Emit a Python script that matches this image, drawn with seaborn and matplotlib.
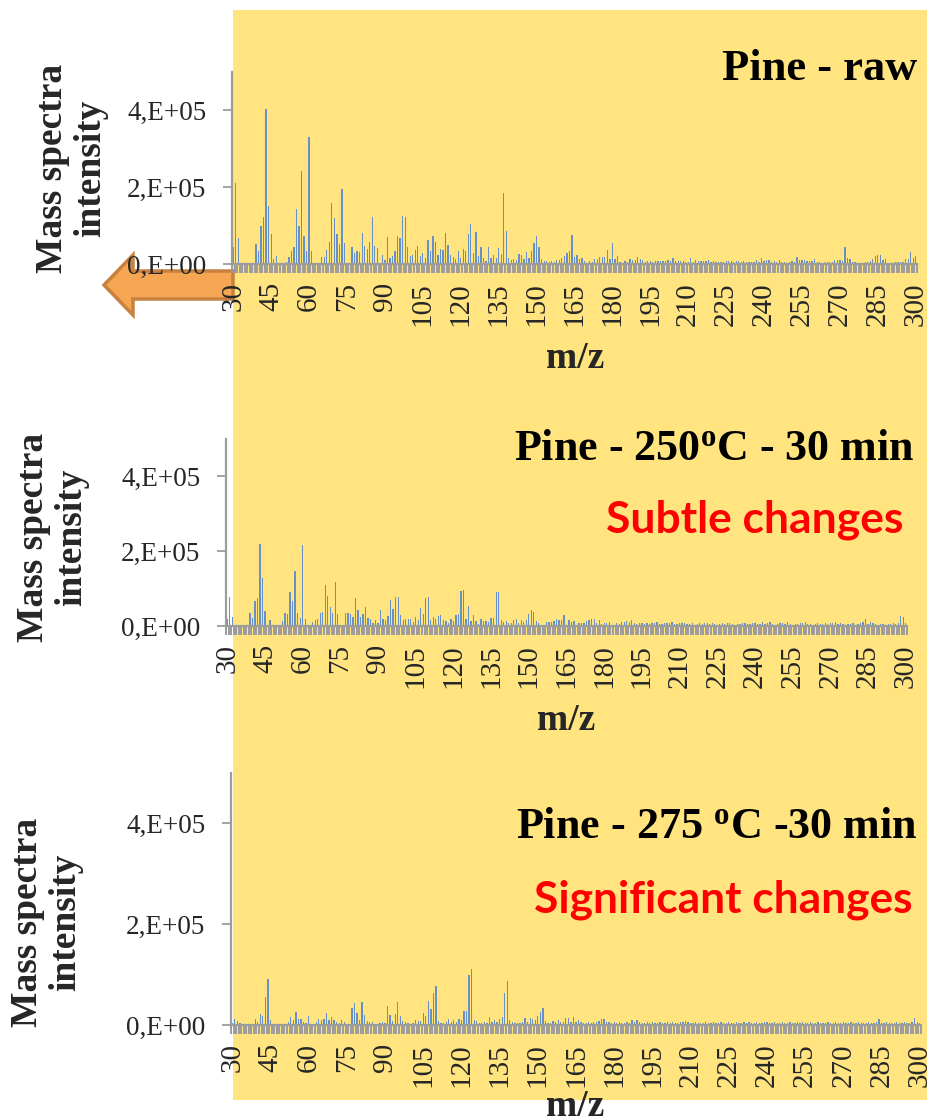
import numpy as np
import matplotlib
matplotlib.use("Agg")
import matplotlib.pyplot as plt
import seaborn as sns
from matplotlib.patches import Rectangle, Polygon

# ---------------- data (intensities in thousands of counts) ----------------
mz = list(range(30, 301))

pine_raw_k = [
    45, 210, 67, 2, 1, 1, 1, 1, 3, 51,
    34, 99, 123, 402, 151, 78, 12, 21, 1, 1,
    2, 5, 19, 34, 44, 142, 99, 241, 73, 34,
    330, 34, 3, 3, 3, 17, 18, 36, 58, 158,
    120, 78, 52, 194, 55, 2, 2, 43, 28, 34,
    32, 81, 47, 39, 57, 123, 47, 41, 3, 23,
    10, 71, 16, 21, 35, 73, 67, 125, 123, 44,
    21, 23, 36, 48, 21, 28, 16, 62, 34, 74,
    57, 23, 39, 36, 80, 50, 23, 18, 12, 34,
    16, 39, 34, 78, 103, 28, 83, 21, 44, 15,
    8, 44, 15, 23, 15, 41, 26, 185, 87, 16,
    10, 13, 10, 25, 23, 12, 30, 16, 34, 55,
    74, 44, 14, 8, 8, 5, 8, 5, 10, 10,
    15, 21, 29, 33, 75, 19, 23, 12, 15, 8,
    3, 8, 6, 12, 12, 19, 17, 19, 36, 14,
    54, 14, 21, 6, 3, 9, 5, 12, 10, 10,
    17, 12, 10, 6, 9, 9, 6, 9, 7, 9,
    8, 9, 10, 9, 15, 9, 9, 8, 9, 5,
    5, 15, 5, 10, 8, 8, 8, 8, 10, 5,
    8, 5, 5, 5, 6, 8, 8, 8, 6, 8,
    8, 5, 8, 5, 5, 6, 5, 10, 5, 15,
    8, 10, 10, 5, 8, 5, 10, 5, 5, 3,
    6, 9, 5, 17, 10, 10, 10, 8, 8, 8,
    13, 5, 5, 3, 5, 5, 5, 5, 10, 10,
    10, 8, 43, 15, 12, 5, 5, 3, 3, 3,
    5, 5, 8, 12, 21, 23, 23, 10, 12, 3,
    3, 3, 5, 5, 5, 5, 12, 14, 30, 15,
    21,
]

pine_250_k = [
    20, 78, 23, 2, 2, 1, 1, 2, 2, 36,
    22, 67, 76, 218, 129, 41, 4, 16, 2, 2,
    3, 3, 13, 34, 32, 91, 67, 148, 36, 22,
    216, 20, 3, 4, 10, 16, 18, 34, 38, 109,
    80, 52, 34, 117, 31, 4, 4, 34, 36, 31,
    23, 74, 43, 25, 32, 52, 22, 20, 9, 16,
    9, 43, 18, 16, 28, 69, 45, 78, 78, 29,
    16, 18, 20, 19, 12, 25, 16, 47, 32, 76,
    77, 16, 23, 19, 27, 29, 16, 13, 7, 18,
    13, 29, 32, 94, 96, 20, 53, 13, 29, 13,
    5, 18, 13, 13, 12, 22, 22, 92, 90, 16,
    12, 13, 7, 7, 16, 18, 7, 16, 12, 16,
    32, 43, 38, 13, 7, 4, 4, 10, 12, 12,
    14, 18, 16, 16, 29, 4, 16, 12, 13, 4,
    7, 7, 9, 13, 16, 18, 18, 7, 16, 5,
    9, 7, 12, 4, 4, 7, 5, 10, 12, 13,
    12, 16, 9, 5, 7, 9, 6, 8, 5, 9,
    7, 10, 6, 5, 8, 7, 9, 10, 6, 5,
    7, 8, 9, 6, 5, 7, 4, 6, 8, 5,
    7, 9, 6, 8, 5, 4, 6, 8, 5, 7,
    9, 5, 4, 6, 5, 7, 8, 5, 6, 9,
    7, 5, 6, 12, 5, 7, 10, 6, 4, 5,
    7, 8, 6, 12, 5, 4, 6, 5, 7, 8,
    10, 5, 6, 4, 5, 7, 6, 5, 8, 6,
    9, 7, 12, 6, 9, 5, 4, 6, 5, 7,
    4, 5, 9, 10, 20, 6, 12, 8, 5, 4,
    6, 5, 4, 6, 5, 7, 6, 9, 27, 25,
    9,
]

pine_275_k = [
    3, 11, 7, 3, 2, 2, 2, 2, 2, 12,
    6, 21, 17, 56, 92, 9, 2, 2, 2, 2,
    2, 2, 6, 15, 10, 26, 12, 12, 6, 3,
    18, 2, 2, 6, 12, 10, 11, 24, 10, 15,
    9, 5, 3, 9, 6, 2, 2, 34, 44, 23,
    9, 46, 20, 7, 5, 5, 2, 2, 4, 5,
    3, 38, 20, 8, 21, 46, 17, 8, 5, 3,
    2, 3, 9, 7, 7, 23, 18, 48, 31, 63,
    78, 8, 3, 3, 5, 12, 6, 10, 6, 12,
    10, 28, 28, 99, 111, 10, 7, 3, 4, 6,
    4, 15, 6, 9, 6, 12, 15, 63, 87, 10,
    5, 4, 3, 4, 5, 13, 6, 13, 11, 9,
    18, 26, 33, 7, 3, 4, 7, 5, 10, 6,
    5, 13, 13, 6, 16, 6, 10, 5, 4, 3,
    5, 4, 6, 5, 7, 11, 11, 6, 5, 4,
    6, 3, 5, 4, 3, 5, 4, 9, 6, 9,
    5, 4, 3, 5, 4, 6, 3, 4, 5, 3,
    4, 6, 3, 5, 4, 3, 6, 5, 7, 5,
    4, 3, 5, 4, 3, 4, 5, 3, 4, 6,
    3, 4, 5, 3, 4, 6, 4, 3, 5, 4,
    3, 5, 4, 6, 3, 4, 5, 3, 4, 5,
    6, 3, 4, 5, 3, 4, 6, 3, 4, 5,
    3, 4, 5, 3, 6, 4, 3, 5, 4, 3,
    5, 4, 3, 4, 5, 3, 4, 5, 3, 4,
    5, 3, 4, 6, 3, 4, 5, 3, 4, 3,
    5, 4, 3, 5, 11, 4, 3, 5, 4, 3,
    4, 5, 3, 4, 5, 3, 4, 6, 13, 5,
    4,
]

xtick_values = list(range(30, 301, 15))
ytick_values = [0, 200000, 400000]
ytick_labels = ["0,E+00", "2,E+05", "4,E+05"]
titles = ["Pine - raw",
          r"Pine - 250$^{\mathrm{o}}$C - 30 min",
          r"Pine - 275 $^{\mathrm{o}}$C -30 min"]
notes = [None, "Subtle changes", "Significant changes"]
series = [pine_raw_k, pine_250_k, pine_275_k]
for s in series:
    assert len(s) == len(mz)

# ---------------- styling / layout ----------------
W, H = 928, 1120
sns.set_theme(style="white")
plt.rcParams['font.family'] = ['Liberation Serif', 'DejaVu Serif']
plt.rcParams['mathtext.fontset'] = 'custom'
plt.rcParams['mathtext.rm'] = 'Liberation Serif:bold'
plt.rcParams['mathtext.bf'] = 'Liberation Serif:bold'
plt.rcParams['mathtext.it'] = 'Liberation Serif:bold'

BAR = '#6690C6'
AXC = '#9C9C9C'
YELLOW = '#FFE480'

fig = plt.figure(figsize=(W / 100, H / 100), dpi=100)
fig.patch.set_facecolor('white')


def fx(px):
    return px / W


def fy(py):
    return 1 - py / H


# yellow highlight panel
fig.patches.append(Rectangle((fx(233), fy(1100)), fx(928) - fx(233), fy(10) - fy(1100),
                             transform=fig.transFigure, facecolor=YELLOW,
                             edgecolor='none', zorder=-3))
# orange arrow pointing left
arrow_px = [(104, 285), (133, 255), (133, 271), (233, 271), (233, 299),
            (133, 299), (133, 315)]
fig.patches.append(Polygon([(fx(x), fy(y)) for x, y in arrow_px], closed=True,
                           transform=fig.transFigure, facecolor='#F6A552',
                           edgecolor='#C8803E', linewidth=2.5, zorder=-2))

# panel geometry in pixels
panels = [
    dict(l=232, r=917, b=264, t=71.5, ylc=(72, 168), xlc=(575, 358), tb=80, nb=None),
    dict(l=226, r=907, b=626, t=438.5, ylc=(53, 537), xlc=(566, 720), tb=460, nb=533),
    dict(l=231, r=921, b=1025, t=772.5, ylc=(47, 922), xlc=(575, 1106), tb=838, nb=913),
]
title_right = [917, 915, 918]
title_width = [195, 400, 401]
note_right = [None, 903, 913]
note_width = [None, 297, 378]

renderer = fig.canvas.get_renderer()


def fitted(x_right, y_base, s, width_px, **kw):
    t = fig.text(fx(x_right), fy(y_base), s, ha='right', va='baseline', **kw)
    w = t.get_window_extent(renderer).width
    t.set_fontsize(t.get_fontsize() * width_px / w)
    return t


for k, (p, vals_k) in enumerate(zip(panels, series)):
    ax = fig.add_axes([fx(p['l']), fy(p['b']), (p['r'] - p['l']) / W, (p['b'] - p['t']) / H])
    ax.set_facecolor('none')
    vals = [v * 1000 for v in vals_k]
    sns.barplot(x=mz, y=vals, ax=ax, native_scale=True, color=BAR, saturation=1,
                width=0.5, errorbar=None, linewidth=0)
    ax.set_xlim(29.5, 300.5)
    ax.set_ylim(0, 500000)

    for side in ['top', 'right']:
        ax.spines[side].set_visible(False)
    for side in ['left', 'bottom']:
        ax.spines[side].set_color(AXC)
        ax.spines[side].set_linewidth(1.6)

    ax.set_xticks(xtick_values)
    ax.set_xticklabels([str(v) for v in xtick_values], rotation=90, fontsize=21)
    ax.set_xticks(np.arange(29.5, 301, 1), minor=True)
    ax.tick_params(axis='x', which='major', bottom=True, length=0, pad=13)
    ax.tick_params(axis='x', which='minor', bottom=True, length=6.5, width=1.4,
                   color=AXC, direction='out')
    ax.set_yticks(ytick_values)
    ax.set_yticklabels(ytick_labels, fontsize=19.5)
    ax.tick_params(axis='y', which='major', left=True, length=6.5, width=1.3,
                   color=AXC, direction='out', pad=12)
    ax.grid(False)

    ax.set_xlabel("m/z", fontsize=27, fontweight='bold')
    ax.xaxis.set_label_coords(fx(p['xlc'][0]), fy(p['xlc'][1]), transform=fig.transFigure)
    ax.xaxis.label.set_verticalalignment('center')
    ax.set_ylabel("Mass spectra\nintensity", fontsize=27, fontweight='bold', linespacing=1.12)
    ax.yaxis.set_label_coords(fx(p['ylc'][0]), fy(p['ylc'][1]), transform=fig.transFigure)
    ax.yaxis.label.set_verticalalignment('center')
    ax.yaxis.label.set_horizontalalignment('center')

    fitted(title_right[k], p['tb'], titles[k], title_width[k], fontsize=30,
           fontweight='bold', color='black')
    if notes[k]:
        fitted(note_right[k], p['nb'], notes[k], note_width[k], fontsize=30,
               fontweight='bold', color='#FF0000', family=['Lato', 'DejaVu Sans'])

fig.savefig('out.png', dpi=100)
